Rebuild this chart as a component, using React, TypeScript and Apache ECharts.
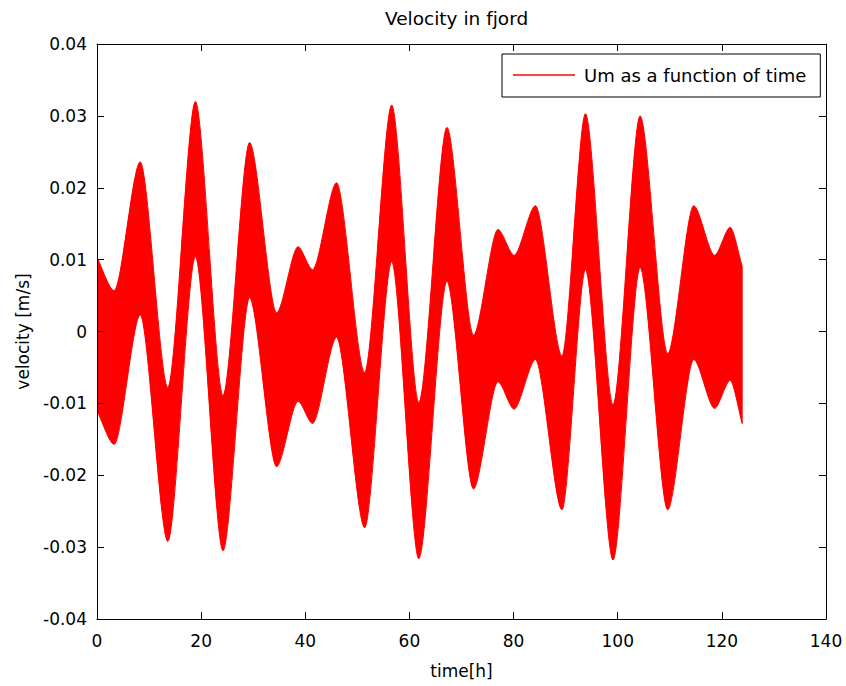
import React, { useEffect, useRef } from 'react';
import * as echarts from 'echarts';

// Times [h] at which the envelopes of the velocity signal were read
const timeH = [0, 3.3, 8.3, 13.6, 18.9, 24.2, 29.3, 34.5, 38.6, 41.4, 46.0, 51.4, 56.6, 61.8, 67.2, 72.3, 77.0, 80.1, 84.2, 89.3, 93.8, 99.1, 104.3, 109.6, 114.6, 118.6, 121.6, 123.9];
// Upper envelope [m/s]
const upperV = [0.0103, 0.0057, 0.0236, -0.0078, 0.032, -0.0089, 0.0263, 0.0026, 0.0118, 0.0086, 0.0207, -0.0057, 0.0315, -0.0099, 0.0284, -0.0005, 0.0142, 0.0106, 0.0175, -0.0034, 0.0303, -0.0102, 0.03, -0.0031, 0.0175, 0.0106, 0.0145, 0.0091];
// Lower envelope [m/s]
const lowerV = [-0.011, -0.0157, 0.0023, -0.0292, 0.0104, -0.0305, 0.0047, -0.0188, -0.0097, -0.0128, -0.0008, -0.0273, 0.0097, -0.0316, 0.007, -0.0219, -0.007, -0.0108, -0.0039, -0.0248, 0.0086, -0.0318, 0.0089, -0.0248, -0.0039, -0.0107, -0.0068, -0.0128];

const xMin = 0, xMax = 140, xStep = 20;
const yMin = -0.04, yMax = 0.04, yStep = 0.01;

const FONT = 'DejaVu Sans';
const K = 0.28; // control-point reach of the envelope curves
const RED = '#ff0000';
const SERIES_NAME = 'Um as a function of time';

type P = number[];

function slopeAt(pts: P[], i: number): number {
  const n = pts.length;
  if (i === 0) return (pts[1][1] - pts[0][1]) / (pts[1][0] - pts[0][0]);
  if (i === n - 1) return (pts[n - 1][1] - pts[n - 2][1]) / (pts[n - 1][0] - pts[n - 2][0]);
  const a = pts[i][1] - pts[i - 1][1];
  const b = pts[i + 1][1] - pts[i][1];
  if (a * b <= 0) return 0;
  return (pts[i + 1][1] - pts[i - 1][1]) / (pts[i + 1][0] - pts[i - 1][0]);
}

function curveThrough(pts: P[]): string {
  let d = '';
  for (let i = 0; i < pts.length - 1; i++) {
    const p0 = pts[i], p1 = pts[i + 1];
    const dx = p1[0] - p0[0];
    const m0 = slopeAt(pts, i), m1 = slopeAt(pts, i + 1);
    const c1 = [p0[0] + dx * K, p0[1] + dx * K * m0];
    const c2 = [p1[0] - dx * K, p1[1] - dx * K * m1];
    d += ` C${c1[0].toFixed(2)},${c1[1].toFixed(2)} ${c2[0].toFixed(2)},${c2[1].toFixed(2)} ${p1[0].toFixed(2)},${p1[1].toFixed(2)}`;
  }
  return d;
}

export default function App() {
  const ref = useRef<HTMLDivElement>(null);
  useEffect(() => {
    if (!ref.current) return;
    const chart = echarts.init(ref.current, null, { renderer: 'svg' });
    const rows = timeH.map((t, i) => [t, upperV[i], lowerV[i]]);
    const axisLine = { show: true, onZero: false, lineStyle: { color: '#000', width: 1 } };
    const axisTick = { show: true, inside: true, length: 7, lineStyle: { color: '#000', width: 1 } };
    const yFmt = (v: number) => (Math.abs(v) < 1e-9 ? '0' : v.toFixed(2));
    const renderItem = (params: any, api: any) => {
      if (params.dataIndex !== 0) return null;
      const up: P[] = rows.map((r) => api.coord([r[0], r[1]]));
      const lo: P[] = rows.map((r) => api.coord([r[0], r[2]])).reverse();
      const d =
        `M${up[0][0].toFixed(2)},${up[0][1].toFixed(2)}` +
        curveThrough(up) +
        ` L${lo[0][0].toFixed(2)},${lo[0][1].toFixed(2)}` +
        curveThrough(lo) +
        ' Z';
      return {
        type: 'path',
        shape: { pathData: d },
        style: { fill: RED, stroke: RED, lineWidth: 1 },
      };
    };
    chart.setOption({
      animation: false,
      backgroundColor: '#fff',
      textStyle: { fontFamily: FONT },
      title: {
        text: 'Velocity in fjord',
        left: 380,
        top: 4,
        textStyle: { fontFamily: FONT, fontSize: 18.5, fontWeight: 'normal', color: '#000' },
      },
      grid: { left: 97, right: 20, top: 44, bottom: 67, containLabel: false },
      legend: {
        data: [{ name: SERIES_NAME, icon: 'rect' }],
        left: 502,
        top: 54,
        itemWidth: 62,
        itemHeight: 1.5,
        padding: [12, 14, 13, 11],
        borderColor: '#000',
        borderWidth: 1,
        backgroundColor: '#fff',
        selectedMode: false,
        textStyle: { fontFamily: FONT, fontSize: 18, color: '#000', padding: [0, 0, 0, 4] },
        z: 20,
      },
      xAxis: [
        {
          type: 'value', min: xMin, max: xMax, interval: xStep, position: 'bottom',
          axisLine, axisTick, splitLine: { show: false },
          axisLabel: { color: '#000', fontSize: 17, fontFamily: FONT, margin: 13 },
          name: 'time[h]', nameLocation: 'middle', nameGap: 43,
          nameTextStyle: { color: '#000', fontSize: 17, fontFamily: FONT },
          z: 10,
        },
        {
          type: 'value', min: xMin, max: xMax, interval: xStep, position: 'top',
          axisLine, axisTick, splitLine: { show: false }, axisLabel: { show: false }, z: 10,
        },
      ],
      yAxis: [
        {
          type: 'value', min: yMin, max: yMax, interval: yStep, position: 'left',
          axisLine, axisTick, splitLine: { show: false },
          axisLabel: { color: '#000', fontSize: 17, fontFamily: FONT, margin: 10, formatter: yFmt },
          name: 'velocity [m/s]', nameLocation: 'middle', nameGap: 66,
          nameTextStyle: { color: '#000', fontSize: 17, fontFamily: FONT },
          z: 10,
        },
        {
          type: 'value', min: yMin, max: yMax, interval: yStep, position: 'right',
          axisLine, axisTick, splitLine: { show: false }, axisLabel: { show: false }, z: 10,
        },
      ],
      series: [
        {
          type: 'custom',
          name: SERIES_NAME,
          coordinateSystem: 'cartesian2d',
          xAxisIndex: 0,
          yAxisIndex: 0,
          data: rows,
          encode: { x: 0, y: [1, 2] },
          itemStyle: { color: RED },
          renderItem,
          clip: true,
          z: 2,
        },
      ],
    });
    return () => chart.dispose();
  }, []);
  return <div ref={ref} style={{ position: 'absolute', left: 0, top: 0, width: 846, height: 686 }} />;
}
